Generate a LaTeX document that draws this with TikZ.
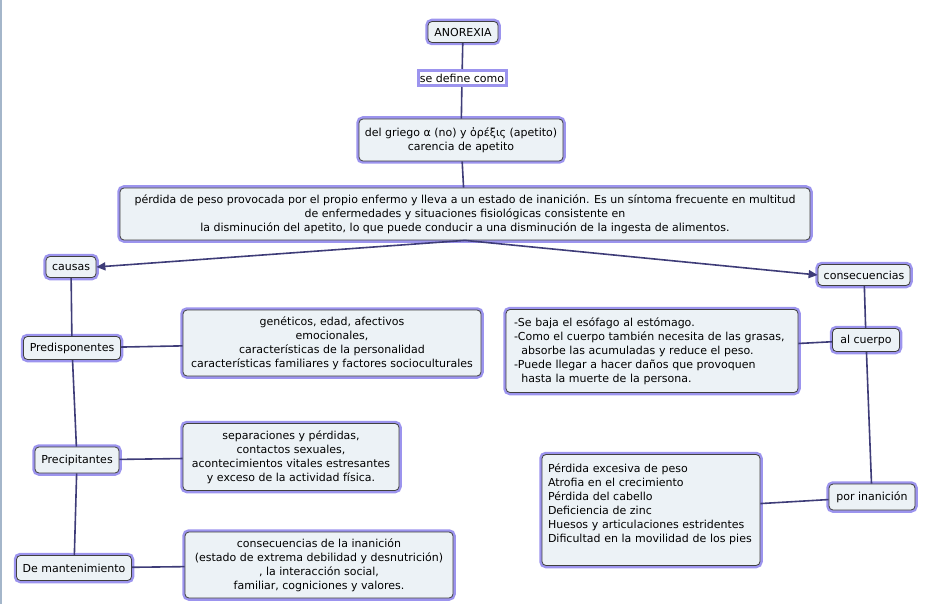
\documentclass[tikz,border=0pt]{standalone}
\usepackage{fontspec}
\setmainfont{DejaVu Sans}
\usetikzlibrary{arrows.meta}

\definecolor{lila}{HTML}{9C94EE}
\definecolor{relleno}{HTML}{ECF2F6}
\definecolor{linea}{HTML}{3E3C78}
\definecolor{borde}{HTML}{A4B6CA}

\tikzset{
  concepto/.style={rounded corners=4pt, draw=black!75, fill=relleno, line width=0.8pt,
    preaction={draw=lila, line width=5.5pt}, align=center, inner sep=2pt,
    font=\fontsize{11}{14}\selectfont},
  enlace/.style={draw=lila, line width=3pt, fill=white, inner sep=1pt,
    font=\fontsize{11}{14}\selectfont},
  union/.style={draw=linea, line width=1.6pt},
  flecha/.style={union, -{Triangle[length=9pt,width=8pt]}}
}

\begin{document}
\begin{tikzpicture}[x=1pt,y=-1pt]
  \useasboundingbox (0,0) rectangle (931,604);
  \draw[borde, line width=1.5pt] (0.75,0) -- (0.75,604);  %Rand links

  \node[concepto, minimum width=70, minimum height=21] (anorexia) at (463,32) {ANOREXIA};  %Wurzel
  \node[enlace, minimum width=88, minimum height=15] (define) at (462,78) {se define como};
  \node[concepto, minimum width=204, minimum height=42] (griego) at (461,140)
    {del griego α (no) y ὀρέξις (apetito)\\carencia de apetito};
  \node[concepto, minimum width=690, minimum height=52] (perdida) at (465,214)
    {pérdida de peso provocada por el propio enfermo y lleva a un estado de inanición. Es un síntoma frecuente en multitud\\
     de enfermedades y situaciones fisiológicas consistente en\\
     la disminución del apetito, lo que puede conducir a una disminución de la ingesta de alimentos.};

  \node[concepto, minimum width=50, minimum height=21] (causas) at (71,267) {causas};
  \node[concepto, minimum width=92, minimum height=21] (consec) at (864,275) {consecuencias};

  % linke Seite
  \node[concepto, minimum width=97, minimum height=23] (predisp) at (72,348) {Predisponentes};
  \node[concepto, minimum width=84, minimum height=26] (precip) at (77,460) {Precipitantes};
  \node[concepto, minimum width=115, minimum height=25] (mant) at (74,568) {De mantenimiento};

  \node[concepto, minimum width=298, minimum height=66] (genet) at (332,343)
    {genéticos, edad, afectivos\\emocionales,\\características de la personalidad\\características familiares y factores socioculturales};
  \node[concepto, minimum width=216, minimum height=67] (separ) at (291,457)
    {separaciones y pérdidas,\\contactos sexuales,\\acontecimientos vitales estresantes\\y exceso de la actividad física.};
  \node[concepto, minimum width=268, minimum height=66] (inanic) at (319,565)
    {consecuencias de la inanición\\(estado de extrema debilidad y desnutrición)\\, la interacción social,\\familiar, cogniciones y valores.};

  % rechte Seite
  \node[concepto, minimum width=67, minimum height=23] (cuerpo) at (866,340) {al cuerpo};
  \node[concepto, minimum width=86, minimum height=26] (porinan) at (872,497) {por inanición};
  \node[concepto, align=left, inner xsep=8pt, text width=276, minimum height=83] (esofago) at (652,351)
    {-Se baja el esófago al estómago.\\
     -Como el cuerpo también necesita de las grasas,\\
     \ \ absorbe las acumuladas y reduce el peso.\\
     -Puede llegar a hacer daños que provoquen\\
     \ \ hasta la muerte de la persona.};
  \node[concepto, align=left, inner xsep=6pt, text width=206, minimum height=111] (sintomas) at (651,510)
    {Pérdida excesiva de peso\\Atrofia en el crecimiento\\Pérdida del cabello\\Deficiencia de zinc\\
     Huesos y articulaciones estridentes\\Dificultad en la movilidad de los pies\\ \mbox{}};

  % Verbindungen
  \foreach \a/\b in {anorexia/define, define/griego, griego/perdida,
                     causas/predisp, predisp/precip, precip/mant,
                     predisp/genet, precip/separ, mant/inanic,
                     consec/cuerpo, cuerpo/esofago, cuerpo/porinan, porinan/sintomas}
    \draw[union] (\a) -- (\b);
  \draw[flecha] (perdida.south) -- (causas.east);  %Pfeil links
  \draw[flecha] (perdida.south) -- (consec.west);  %Pfeil rechts
\end{tikzpicture}
\end{document}
